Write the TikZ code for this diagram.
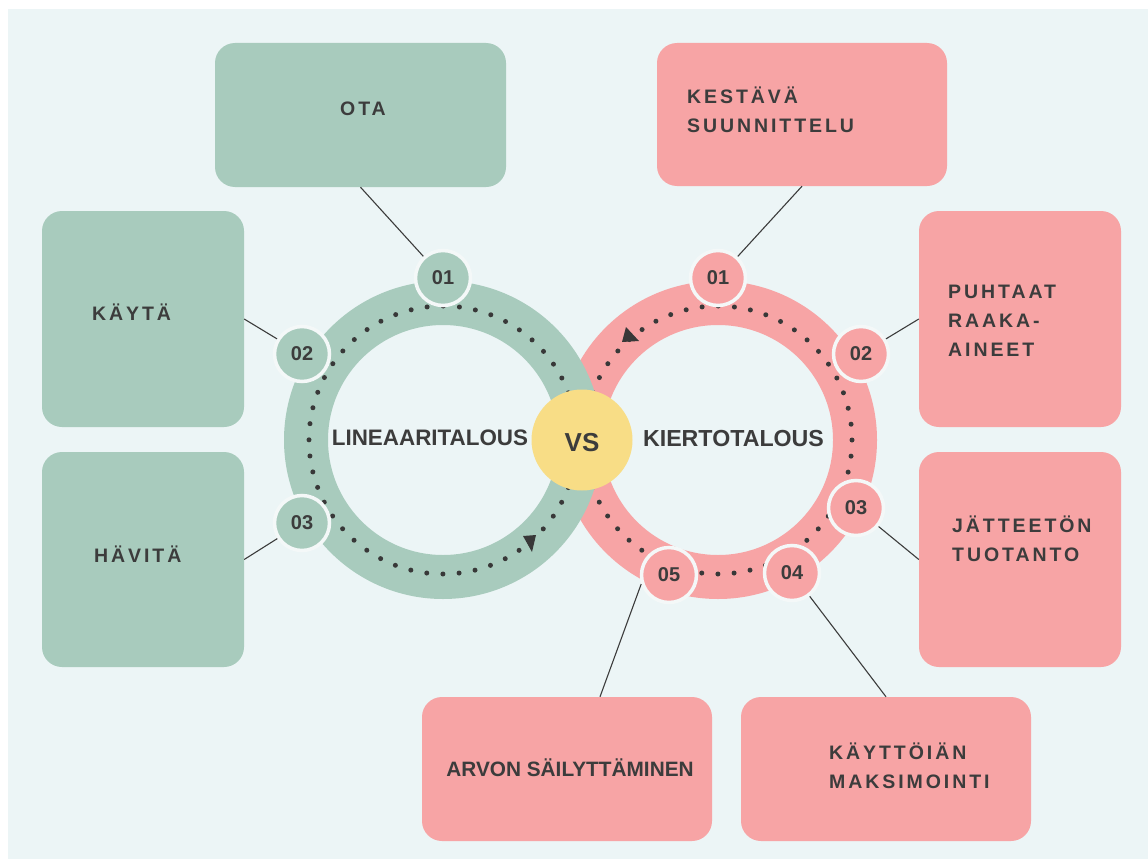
\documentclass[tikz,border=0pt]{standalone}
\usepackage{fontspec}
\setmainfont{Liberation Sans}
\newfontfamily\trkfont[LetterSpace=15]{Liberation Sans}
\usetikzlibrary{calc}
\definecolor{bgc}{HTML}{ECF5F6}
\definecolor{greenc}{HTML}{A8CBBD}
\definecolor{pinkc}{HTML}{F7A4A5}
\definecolor{yellowc}{HTML}{F8DD86}
\definecolor{txtc}{HTML}{3C3C3C}
\definecolor{dotc}{HTML}{383838}
\definecolor{haloc}{HTML}{F4F8F8}
\begin{document}
\begin{tikzpicture}[x=1pt,y=-1pt,
  ringband/.style={line width=44pt},
  dotring/.style={dotc, line width=5pt, line cap=round, dash pattern=on 0pt off 16.2pt},
  numc/.style={circle, draw=haloc, line width=3.5pt, minimum size=55pt, inner sep=0pt,
    text=txtc, font=\fontsize{20}{20}\selectfont\bfseries},
  boxc/.style={rounded corners=20pt, inner sep=0pt},
  conn/.style={draw=txtc, line width=1.1pt},
  trk/.style={inner sep=0pt, text=txtc, font=\trkfont\bfseries\fontsize{19.5}{29}\selectfont},
  plain/.style={inner sep=0pt, text=txtc}
]
\useasboundingbox (0,0) rectangle (1148,859);
\fill[white] (0,0) rectangle (1148,859);
\fill[bgc] (8,9) rectangle (1148,859);

% rings
\draw[pinkc, ringband] (718,440) circle[radius=137];
\draw[dotring] (718,440) circle[radius=134];
\draw[greenc, ringband] (443,440) circle[radius=137];
\draw[dotring] (443,440) circle[radius=134];

% direction arrows
\fill[dotc] (523,536) -- (536,535) -- (532,552) -- cycle;
\fill[dotc] (626,327) -- (622,342) -- (639,341) -- cycle;

% VS
\node[circle, fill=yellowc, minimum size=101pt, inner sep=0pt] (vs) at (582,440) {};
\node[plain, anchor=base, font=\fontsize{26}{26}\selectfont\bfseries] (vst) at (582,451) {VS};
\node[plain, anchor=base, font=\fontsize{22.4}{22}\selectfont\bfseries] (lin) at (430,445) {LINEAARITALOUS};
\node[plain, anchor=base, font=\fontsize{23.2}{23}\selectfont\bfseries] (kier) at (733.5,446) {KIERTOTALOUS};

% number circles
\node[numc, fill=greenc] (g1) at (443,278) {01};
\node[numc, fill=greenc] (g2) at (302,354) {02};
\node[numc, fill=greenc] (g3) at (302,523) {03};
\node[numc, fill=pinkc] (p1) at (718,278) {01};
\node[numc, fill=pinkc] (p2) at (861,354) {02};
\node[numc, fill=pinkc] (p3) at (856,508) {03};
\node[numc, fill=pinkc] (p4) at (792,573) {04};
\node[numc, fill=pinkc] (p5) at (669,575) {05};

% boxes
\node[boxc, fill=greenc, minimum width=291pt, minimum height=144pt] (ota) at (360.5,115) {};
\node[boxc, fill=greenc, minimum width=202pt, minimum height=216pt] (kayta) at (143,319) {};
\node[boxc, fill=greenc, minimum width=202pt, minimum height=215pt] (havita) at (143,559.5) {};
\node[boxc, fill=pinkc, minimum width=290pt, minimum height=143pt] (kestava) at (802,114.5) {};
\node[boxc, fill=pinkc, minimum width=202pt, minimum height=216pt] (puhtaat) at (1020,319) {};
\node[boxc, fill=pinkc, minimum width=202pt, minimum height=215pt] (jatteeton) at (1020,559.5) {};
\node[boxc, fill=pinkc, minimum width=290pt, minimum height=144pt] (arvon) at (567,769) {};
\node[boxc, fill=pinkc, minimum width=290pt, minimum height=144pt] (kayttoian) at (886,769) {};

% connectors
\draw[conn] (ota.south) -- (g1);
\draw[conn] (kayta.east) -- (g2);
\draw[conn] (havita.east) -- (g3);
\draw[conn] (kestava.south) -- (p1);
\draw[conn] (puhtaat.west) -- (p2);
\draw[conn] (jatteeton.west) -- (p3);
\draw[conn] (kayttoian.north) -- (p4);
\draw[conn] ($(arvon.north)+(33,0)$) -- (p5.198);

% box texts
\node[trk, anchor=base] (t-ota) at (363,115) {OTA};
\node[trk, anchor=base west] (t-kayta) at (92,320) {KÄYTÄ};
\node[trk, anchor=base west] (t-havita) at (94,562) {HÄVITÄ};
\node[trk, anchor=west, align=left] (t-kestava) at (687,109.75) {KESTÄVÄ\\SUUNNITTELU};
\node[trk, anchor=west, align=left] (t-puhtaat) at (948,321) {PUHTAAT\\RAAKA-\\AINEET};
\node[trk, anchor=west, align=left] (t-jatteeton) at (952,538.75) {JÄTTEETÖN\\TUOTANTO};
\node[trk, anchor=west, align=left] (t-kayttoian) at (829,765.75) {KÄYTTÖIÄN\\MAKSIMOINTI};
\node[plain, anchor=base, font=\fontsize{20.8}{20}\selectfont\bfseries] (t-arvon) at (570,776) {ARVON SÄILYTTÄMINEN};
\end{tikzpicture}
\end{document}
